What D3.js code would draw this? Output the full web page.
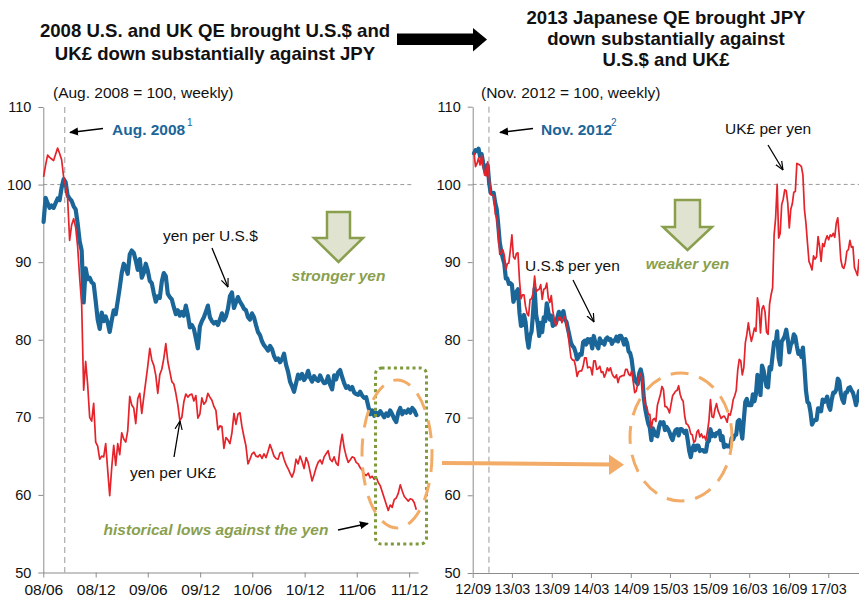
<!DOCTYPE html>
<html>
<head>
<meta charset="utf-8">
<script src="https://cdn.jsdelivr.net/npm/d3@7"></script>
<style>
body { margin: 0; background: #fff; }
svg { display: block; font-family: "Liberation Sans", Arial, Helvetica, sans-serif; }
</style>
</head>
<body>
<svg id="chart" width="859" height="603"></svg>
<script>
// weekly index values, left panel starts first week of June 2008 (Aug. 2008 = 100)
var leftStart = new Date(2008, 5, 2);
var yenPerUsd = [
  95.2, 98.3, 97.6, 97.0, 97.3, 97.0, 97.6, 98.2, 98.0, 99.6,
  100.7, 100.3, 98.6, 98.2, 97.9, 97.2, 96.8, 95.0, 92.7, 91.5,
  84.8, 89.2, 87.8, 88.0, 87.4, 87.2, 85.0, 82.6, 81.4, 83.5,
  82.4, 83.0, 82.2, 81.0, 82.5, 83.8, 83.3, 85.0, 86.7, 88.6,
  89.8, 89.3, 88.5, 91.0, 91.5, 91.2, 90.2, 89.0, 90.4, 88.0,
  88.6, 89.8, 88.9, 87.6, 87.3, 86.0, 84.9, 85.6, 85.4, 87.5,
  88.6, 88.2, 85.9, 85.5, 85.2, 84.2, 83.3, 83.8, 83.1, 83.6,
  83.1, 84.4, 83.2, 81.6, 81.9, 81.4, 80.2, 78.9, 81.7, 82.4,
  82.9, 83.6, 84.4, 82.9, 82.4, 82.1, 82.3, 81.9, 82.6, 83.4,
  82.5, 83.0, 84.0, 85.6, 86.1, 84.1, 84.8, 85.5, 84.9, 84.5,
  84.0, 83.8, 82.9, 82.6, 83.4, 82.9, 81.9, 81.0, 80.6, 79.8,
  79.3, 79.0, 78.6, 79.2, 78.8, 77.9, 77.4, 77.6, 77.1, 77.5,
  78.2, 76.8, 75.9, 74.6, 74.0, 73.3, 74.4, 75.5, 75.0, 75.6,
  74.8, 75.2, 76.0, 75.1, 74.6, 75.3, 74.9, 74.7, 75.4, 74.8,
  74.4, 74.5, 75.3, 74.2, 73.6, 75.4, 74.9, 75.8, 76.1, 75.2,
  74.4, 73.8, 74.0, 73.6, 73.9, 73.2, 73.0, 72.9, 73.3, 72.8,
  72.5, 72.6, 71.5, 70.4, 70.9, 70.2, 70.6, 70.3, 70.8, 70.4,
  70.0, 70.5, 70.2, 70.9, 70.4, 69.8, 69.4, 70.6, 71.2, 70.4,
  70.8, 70.6, 71.0, 70.6, 71.2, 70.9, 70.3
];
var yenPerGbp = [
  101.0, 102.5, 103.8, 103.5, 103.3, 103.1, 103.9, 104.7, 104.0, 103.2,
  101.0, 99.7, 98.2, 92.8, 94.8, 95.6, 94.5, 92.0, 88.0, 84.6,
  73.5, 77.2, 74.2, 70.0, 69.5, 71.8, 66.8, 66.3, 64.6, 65.0,
  64.9, 66.6, 63.2, 59.9, 63.5, 66.4, 63.8, 66.6, 65.2, 68.0,
  67.2, 66.8, 68.3, 72.7, 71.6, 71.2, 69.2, 72.4, 73.1, 70.5,
  72.6, 74.6, 76.6, 78.9, 77.4, 76.7, 75.4, 73.1, 75.5, 76.2,
  77.6, 79.5, 77.2, 75.9, 74.6, 74.3, 73.1, 71.6, 69.6, 70.0,
  72.0, 73.0, 72.6, 72.9, 73.0, 72.1, 72.8, 69.9, 70.4, 72.5,
  71.7, 72.0, 73.1, 72.6, 72.2, 71.4, 70.9, 68.4, 68.9, 68.8,
  66.0, 67.4, 67.1, 66.6, 68.0, 70.5, 69.1, 70.4, 70.6, 68.8,
  67.5, 66.3, 64.0, 64.6, 65.3, 65.5, 65.0, 64.9, 65.2, 64.7,
  65.3, 64.8, 65.6, 66.5, 65.8, 65.0, 64.7, 64.6, 65.4, 65.5,
  64.6, 63.9, 63.4, 62.8, 62.3, 63.0, 64.6, 64.0, 65.0, 64.3,
  63.4, 64.8, 64.2, 63.0, 61.8, 62.6, 63.5, 64.2, 64.5, 64.0,
  64.9, 65.3, 65.7, 64.6, 64.3, 64.9, 64.1, 63.8, 66.2, 67.8,
  66.1, 65.0, 64.2, 64.5, 64.9, 64.8, 64.2, 64.0, 63.5, 63.2,
  62.7, 62.5, 62.8, 62.2, 62.4, 62.0, 62.3, 61.6, 61.2, 60.4,
  59.6, 58.8, 58.0, 58.7, 58.4, 59.4, 59.6, 60.2, 61.3, 60.5,
  59.8, 59.5, 59.2, 59.5, 59.4, 59.0, 58.1
];

// right panel starts second week of Sept. 2012 (Nov. 2012 = 100)
var rightStart = new Date(2012, 8, 7);
var usdPerYen = [
  104.0, 104.4, 104.3, 104.6, 103.6, 103.9, 102.8, 102.0, 101.4, 102.5,
  100.2, 98.9, 98.8, 98.9, 97.6, 96.8, 94.8,
  // 2013
  92.5, 91.4, 90.5, 89.8, 87.9, 87.9, 87.2, 87.3, 87.1, 84.9,
  85.5, 86.2, 86.5, 83.5, 81.8, 81.9, 83.2, 82.3, 80.2, 79.0,
  80.5, 81.1, 83.6, 86.6, 83.2, 82.2, 80.5, 82.2, 81.0, 82.9,
  82.4, 84.7, 83.6, 82.6, 83.1, 81.8, 82.0, 82.1, 82.9, 83.6,
  82.7, 83.2, 83.7, 82.6, 82.3, 81.4, 80.5, 79.6, 79.2, 79.0,
  78.4, 77.5,
  // 2014
  77.8, 78.2, 78.1, 79.7, 79.9, 79.4, 80.1, 79.7, 80.1, 78.9,
  80.5, 79.7, 79.3, 78.9, 80.2, 79.6, 79.8, 79.4, 80.1, 80.3,
  80.0, 80.1, 79.5, 79.9, 79.9, 80.4, 79.8, 80.5, 80.5, 80.1,
  79.4, 80.1, 79.6, 78.5, 78.3, 77.5, 75.9, 74.8, 74.6, 74.3,
  75.7, 76.2, 75.3, 72.6, 71.1, 70.1, 69.2, 68.7, 67.1, 68.6,
  68.2, 67.7,
  // 2015
  67.6, 68.7, 69.4, 69.2, 69.4, 68.4, 68.8, 68.5, 68.1, 67.5,
  67.1, 67.9, 68.4, 68.5, 67.7, 68.5, 68.5, 68.3, 68.0, 68.3,
  67.1, 65.7, 64.9, 66.0, 66.4, 65.8, 66.4, 66.4, 65.7, 65.8,
  65.8, 65.6, 65.6, 66.8, 67.0, 68.5, 67.6, 67.9, 67.6, 68.0,
  68.0, 68.3, 67.1, 67.6, 66.2, 66.5, 66.3, 66.4, 66.2, 67.4,
  67.2, 67.7,
  // 2016
  67.8, 69.5, 69.7, 68.6, 67.3, 69.7, 72.0, 72.4, 71.6, 71.6,
  71.6, 73.0, 72.1, 73.0, 75.5, 74.9, 72.9, 76.7, 76.1, 75.0,
  74.0, 73.9, 76.5, 76.2, 78.0, 79.7, 79.5, 81.1, 77.7, 76.8,
  79.8, 80.1, 80.5, 81.3, 80.1, 78.4, 79.4, 79.7, 80.7, 80.4,
  79.2, 78.2, 78.5, 77.8, 79.0, 76.5, 73.5, 72.0, 71.8, 70.7,
  69.1, 69.5, 69.7,
  // 2017
  69.7, 71.2, 71.1, 70.8, 72.3, 72.0, 72.2, 72.7, 71.5, 71.0,
  72.3, 73.2, 73.2, 73.6, 75.0, 74.7, 73.1, 72.3, 71.9, 73.2,
  73.2, 73.8, 73.9, 73.5, 73.2, 72.5, 71.6, 72.4, 73.4
];
var gbpPerYen = [
  104.1, 102.3, 102.7, 103.4, 102.5, 103.7, 102.4, 101.2, 101.1, 102.9,
  101.0, 98.7, 98.6, 98.5, 96.2, 95.7, 93.7,
  // 2013
  91.0, 91.1, 91.6, 90.9, 89.0, 89.8, 89.9, 91.6, 93.5, 90.7,
  90.4, 91.1, 91.2, 87.7, 85.3, 85.8, 85.8, 84.3, 83.4, 83.1,
  85.2, 85.3, 86.0, 88.2, 86.2, 86.4, 86.5, 87.1, 85.2, 86.5,
  86.6, 87.3, 85.4, 84.8, 85.7, 83.7, 82.7, 81.8, 82.4, 82.9,
  82.9, 82.2, 82.7, 83.0, 82.0, 80.9, 79.2, 77.7, 77.4, 77.4,
  76.6, 75.3,
  // 2014
  75.9, 76.0, 76.0, 76.6, 77.7, 77.7, 76.4, 76.5, 76.4, 75.5,
  77.3, 77.3, 76.2, 76.3, 76.6, 75.8, 75.9, 75.2, 75.7, 76.4,
  76.0, 76.4, 75.7, 75.3, 75.1, 75.5, 74.5, 75.2, 75.3, 75.4,
  75.4, 76.2, 76.2, 75.6, 75.4, 76.0, 74.7, 73.2, 73.4, 74.3,
  75.3, 75.7, 74.8, 72.5, 71.7, 71.4, 70.4, 70.4, 68.6, 69.7,
  69.9, 69.5,
  // 2015
  71.6, 72.3, 73.0, 74.0, 73.6, 71.4, 71.4, 71.1, 70.6, 71.7,
  72.8, 73.1, 73.4, 73.5, 74.1, 73.0, 72.4, 72.1, 70.2, 69.2,
  69.1, 68.7, 67.9, 67.8, 66.8, 67.0, 68.1, 68.4, 67.5, 67.9,
  67.4, 67.6, 67.1, 68.2, 69.6, 72.3, 70.1, 70.0, 71.1, 71.8,
  70.9, 70.4, 69.9, 70.1, 70.2, 69.9, 69.4, 70.5, 70.3, 71.1,
  72.3, 72.8,
  // 2016
  73.5, 76.1, 77.5, 77.3, 75.5, 76.4, 79.6, 80.7, 82.2, 80.8,
  79.8, 80.6, 81.5, 81.1, 85.4, 84.3, 80.9, 84.0, 84.4, 83.6,
  81.0, 80.7, 84.6, 85.8, 86.7, 93.5, 95.7, 100.0, 93.1, 93.7,
  97.4, 98.1, 99.3, 99.2, 97.6, 94.4, 96.8, 97.5, 99.0, 99.1,
  102.7, 102.6, 102.5, 102.3, 101.2, 96.8, 95.0, 92.5, 90.1, 89.6,
  89.0, 90.8, 90.4,
  // 2017
  90.7, 93.3, 92.0, 90.1, 92.4, 92.0, 92.9, 93.4, 92.9, 93.5,
  93.3, 93.7, 93.2, 95.0, 95.7, 93.3, 90.3, 89.4, 89.2, 89.9,
  91.4, 91.6, 92.8, 91.9, 92.0, 89.3, 88.8, 88.3, 90.4
];

var yTicks = [50, 60, 70, 80, 90, 100, 110];
var leftTickDates = ["2008-06-01", "2008-12-01", "2009-06-01", "2009-12-01", "2010-06-01", "2010-12-01", "2011-06-01", "2011-12-01"];
var leftTickLabels = ["08/06", "08/12", "09/06", "09/12", "10/06", "10/12", "11/06", "11/12"];
var rightTickDates = ["2012-09-01", "2013-03-01", "2013-09-01", "2014-03-01", "2014-09-01", "2015-03-01", "2015-09-01", "2016-03-01", "2016-09-01", "2017-03-01"];
var rightTickLabels = ["12/09", "13/03", "13/09", "14/03", "14/09", "15/03", "15/09", "16/03", "16/09", "17/03"];

var BLUE = "#1b6699";
var RED = "#e5232a";
var GREEN = "#8a9f4e";
var ORANGE = "#f2ac68";

var parseDay = d3.timeParse("%Y-%m-%d");

function toSeries(start, values) {
    return values.map(function(v, i) {
        return { date: d3.timeDay.offset(start, 7 * i), v: v };
    });
}

var svg = d3.select("#chart");

var defs = svg.append("defs");
defs.append("marker")
    .attr("id", "tri")
    .attr("viewBox", "0 0 10 10")
    .attr("refX", 9).attr("refY", 5)
    .attr("markerUnits", "userSpaceOnUse")
    .attr("markerWidth", 9).attr("markerHeight", 9)
    .attr("orient", "auto")
    .append("path").attr("d", "M0,0.5 L10,5 L0,9.5 z").attr("fill", "#000");
defs.append("marker")
    .attr("id", "vee")
    .attr("viewBox", "0 0 10 10")
    .attr("refX", 9.5).attr("refY", 5)
    .attr("markerUnits", "userSpaceOnUse")
    .attr("markerWidth", 9).attr("markerHeight", 9)
    .attr("orient", "auto")
    .append("path").attr("d", "M0,1 L9.5,5 L0,9").attr("fill", "none")
    .attr("stroke", "#000").attr("stroke-width", 1.3);

function drawPanel(p) {
    var g = svg.append("g");
    var x = p.x, y = p.y;

    // reference lines
    g.append("line")
        .attr("x1", x.range()[0]).attr("x2", p.refEnd)
        .attr("y1", y(100)).attr("y2", y(100))
        .attr("stroke", "#9a9a9a").attr("stroke-dasharray", "4,3");
    g.append("line")
        .attr("x1", x(p.baseDate)).attr("x2", x(p.baseDate))
        .attr("y1", y(110)).attr("y2", y(50))
        .attr("stroke", "#9a9a9a").attr("stroke-dasharray", "6,4");

    var yAxis = d3.axisLeft(y).tickValues(yTicks).tickSize(5).tickSizeOuter(0).tickPadding(7);
    var ga = g.append("g").attr("transform", "translate(" + x.range()[0] + ",0)").call(yAxis);
    ga.selectAll("text").attr("font-size", 14.5).attr("fill", "#111").attr("font-family", null);

    var dates = p.tickDates.map(parseDay);
    var xAxis = d3.axisBottom(x).tickValues(dates).tickSize(5).tickSizeOuter(0).tickPadding(6)
        .tickFormat(function(d, i) { return p.tickLabels[i]; });
    var gx = g.append("g").attr("transform", "translate(0," + y(50) + ")").call(xAxis);
    gx.selectAll("text").attr("font-size", p.tickFont).attr("fill", "#111").attr("font-family", null);

    [ga, gx].forEach(function(a) {
        a.selectAll("path, line").attr("stroke", "#8c8c8c");
    });

    var line = d3.line()
        .x(function(d) { return x(d.date); })
        .y(function(d) { return y(d.v); });

    g.append("path").datum(p.blue)
        .attr("d", line).attr("fill", "none")
        .attr("stroke", BLUE).attr("stroke-width", 4.2)
        .attr("stroke-linejoin", "round").attr("stroke-linecap", "round");
    g.append("path").datum(p.red)
        .attr("d", line).attr("fill", "none")
        .attr("stroke", RED).attr("stroke-width", 1.7)
        .attr("stroke-linejoin", "round");
    return g;
}

var xL = d3.scaleTime().domain([new Date(2008, 5, 1), new Date(2012, 0, 1)]).range([43.3, 418]);
var yL = d3.scaleLinear().domain([50, 110]).range([572.5, 107]);
var xR = d3.scaleTime().domain([new Date(2012, 8, 1), new Date(2017, 6, 21)]).range([472.7, 859]);
var yR = d3.scaleLinear().domain([50, 110]).range([573, 106.7]);

drawPanel({
    x: xL, y: yL, refEnd: 413, baseDate: new Date(2008, 7, 15),
    tickDates: leftTickDates, tickLabels: leftTickLabels, tickFont: 15.5,
    blue: toSeries(leftStart, yenPerUsd), red: toSeries(leftStart, yenPerGbp)
});
drawPanel({
    x: xR, y: yR, refEnd: 859, baseDate: new Date(2012, 10, 15),
    tickDates: rightTickDates, tickLabels: rightTickLabels, tickFont: 14.3,
    blue: toSeries(rightStart, usdPerYen), red: toSeries(rightStart, gbpPerYen)
});

// titles
function textBlock(lines, cx, y0, dy, opts) {
    var t = svg.append("text").attr("text-anchor", "middle")
        .attr("font-size", opts.size).attr("font-weight", opts.weight || "normal")
        .attr("fill", opts.fill || "#111");
    lines.forEach(function(s, i) {
        t.append("tspan").attr("x", cx).attr("y", y0 + i * dy).text(s);
    });
    return t;
}
textBlock(["2008 U.S. and UK QE brought U.S.$ and", "UK\u00a3 down substantially against JPY"], 215, 36.5, 23, { size: 18.6, weight: "bold" });
textBlock(["2013 Japanese QE brought JPY", "down substantially against", "U.S.$ and UK\u00a3"], 666, 24, 21.2, { size: 18.6, weight: "bold" });

// big black arrow between titles
svg.append("path")
    .attr("d", "M397,33.5 L473,33.5 L473,28 L487,39.5 L473,51.5 L473,45 L397,45 Z")
    .attr("fill", "#000");

// subtitles
svg.append("text").attr("x", 53).attr("y", 98).attr("font-size", 15.5).attr("fill", "#111")
    .text("(Aug. 2008 = 100, weekly)");
svg.append("text").attr("x", 481).attr("y", 98).attr("font-size", 15.5).attr("fill", "#111")
    .text("(Nov. 2012 = 100, weekly)");

function label(x, y, s, opts) {
    opts = opts || {};
    return svg.append("text").attr("x", x).attr("y", y)
        .attr("text-anchor", opts.anchor || "start")
        .attr("font-size", opts.size || 15.5)
        .attr("font-weight", opts.weight || "normal")
        .attr("font-style", opts.style || "normal")
        .attr("fill", opts.fill || "#111")
        .text(s);
}
function arrow(x1, y1, x2, y2, head, w) {
    svg.append("line")
        .attr("x1", x1).attr("y1", y1).attr("x2", x2).attr("y2", y2)
        .attr("stroke", "#000").attr("stroke-width", w || 1.3)
        .attr("marker-end", "url(#" + head + ")");
}

// base-date labels
label(112, 134.5, "Aug. 2008", { weight: "bold", fill: BLUE });
label(187, 126, "1", { size: 10, fill: BLUE });
arrow(103, 128.5, 70, 132.5, "tri", 1.5);
label(541, 134.5, "Nov. 2012", { weight: "bold", fill: BLUE });
label(611, 126, "2", { size: 10, fill: BLUE });
arrow(533, 128.5, 500, 132.5, "tri", 1.5);

// series labels
label(163, 241, "yen per U.S.$");
arrow(212, 248, 228, 287, "vee");
label(130, 478, "yen per UK\u00a3");
arrow(174, 457, 180, 421, "vee");
label(525, 271, "U.S.$ per yen");
arrow(573, 280, 594, 322, "vee");
label(725, 134, "UK\u00a3 per yen");
arrow(768, 145, 783, 170, "vee");

// green block arrows
function blockArrow(cx, top, shaftHalf, headY, headHalf, tip) {
    svg.append("path")
        .attr("d", "M" + (cx - shaftHalf) + "," + top + " L" + (cx + shaftHalf) + "," + top +
            " L" + (cx + shaftHalf) + "," + headY + " L" + (cx + headHalf) + "," + headY +
            " L" + cx + "," + tip + " L" + (cx - headHalf) + "," + headY +
            " L" + (cx - shaftHalf) + "," + headY + " Z")
        .attr("fill", "#dfe3cf").attr("stroke", GREEN).attr("stroke-width", 2.5)
        .attr("stroke-linejoin", "miter");
}
blockArrow(338.5, 212, 11.5, 238, 24.5, 262);
label(338.5, 281, "stronger yen", { anchor: "middle", weight: "bold", style: "italic", fill: GREEN });
blockArrow(687.5, 200, 12.5, 227, 24.5, 250);
label(687.5, 269, "weaker yen", { anchor: "middle", weight: "bold", style: "italic", fill: GREEN });

// historical lows box
svg.append("rect")
    .attr("x", 375.5).attr("y", 368).attr("width", 51).attr("height", 176).attr("rx", 6)
    .attr("fill", "none").attr("stroke", "#7f9a3c").attr("stroke-width", 3)
    .attr("stroke-dasharray", "3,3.2");
label(216, 535, "historical lows against the yen", { anchor: "middle", weight: "bold", style: "italic", fill: GREEN });
arrow(338, 530, 368, 523.5, "tri", 1.5);

// orange dashed ellipses and connecting arrow
svg.append("ellipse")
    .attr("cx", 397).attr("cy", 454).attr("rx", 35).attr("ry", 74)
    .attr("fill", "none").attr("stroke", ORANGE).attr("stroke-width", 3)
    .attr("stroke-dasharray", "18,11");
svg.append("ellipse")
    .attr("cx", 681).attr("cy", 437).attr("rx", 51).attr("ry", 64)
    .attr("fill", "none").attr("stroke", ORANGE).attr("stroke-width", 3)
    .attr("stroke-dasharray", "18,11");
svg.append("line")
    .attr("x1", 442).attr("y1", 463).attr("x2", 611).attr("y2", 464.5)
    .attr("stroke", ORANGE).attr("stroke-width", 4);
svg.append("path")
    .attr("d", "M609,454.5 L624,464.8 L609,475 Z")
    .attr("fill", ORANGE);
</script>
</body>
</html>
